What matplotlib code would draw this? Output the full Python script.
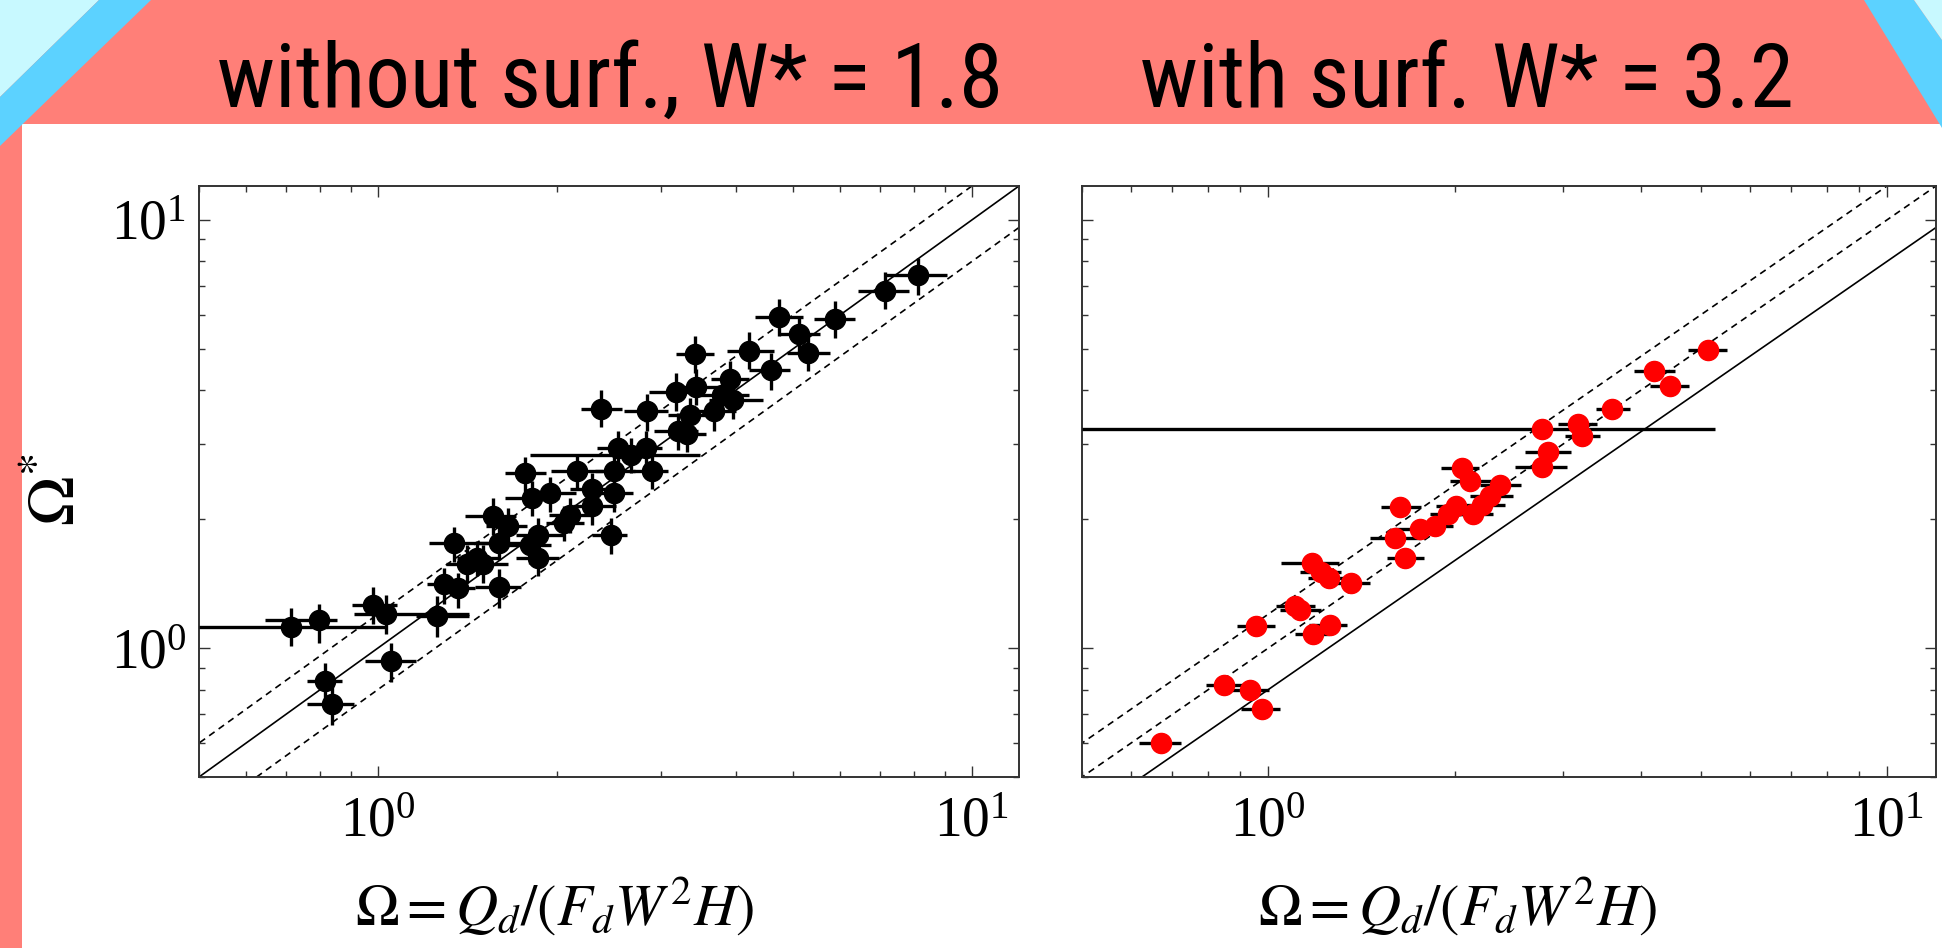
import numpy as np
import matplotlib
matplotlib.use("Agg")
import matplotlib.pyplot as plt
from matplotlib.patches import Polygon, Rectangle
from matplotlib.ticker import LogLocator, NullFormatter

# ---------------- data ----------------
# Left panel: without surfactant, W* = 1.8  (x = Omega, y = Omega*)
L_x = [0.715, 0.797, 0.983, 1.032, 1.26, 1.054, 0.816, 0.836, 1.292, 1.365, 1.597, 1.342, 1.414, 1.506, 1.47,
       1.564, 1.656, 1.597, 1.80, 1.858, 1.858, 1.771, 1.82, 1.947, 2.056, 2.108, 2.167, 2.293, 2.293, 2.468,
       2.494, 2.494, 2.536, 2.667, 2.829, 2.889, 2.376, 2.841, 3.176, 3.196, 3.312, 3.347, 3.418, 3.433, 3.679,
       3.797, 3.918, 3.959, 4.217, 4.587, 4.734, 5.116, 5.291, 5.877, 7.131, 8.123]
L_y = [1.12, 1.16, 1.26, 1.20, 1.19, 0.931, 0.839, 0.742, 1.41, 1.38, 1.39, 1.76, 1.57, 1.57, 1.62,
       2.04, 1.93, 1.76, 1.74, 1.84, 1.62, 2.57, 2.24, 2.30, 1.96, 2.05, 2.59, 2.35, 2.15, 1.84,
       2.30, 2.59, 2.93, 2.82, 2.93, 2.59, 3.62, 3.57, 3.96, 3.22, 3.17, 3.50, 4.86, 4.07, 3.57,
       3.89, 4.25, 3.80, 4.95, 4.46, 5.94, 5.41, 4.89, 5.87, 6.83, 7.42]
L_xlo = [0.50, 0.646, 0.904, 0.910, 1.158, 0.953, 0.761, 0.761, 1.208, 1.287, 1.46, 1.221, 1.30, 1.37, 1.36,
         1.40, 1.522, 1.475, 1.638, 1.709, 1.709, 1.638, 1.638, 1.782, 1.918, 1.939, 1.959, 2.108, 2.13, 2.293,
         2.317, 2.317, 2.342, 1.80, 2.601, 2.684, 2.199, 2.601, 2.859, 2.919, 3.077, 3.077, 3.176, 3.077, 3.382,
         3.491, 3.64, 3.603, 3.877, 4.217, 4.307, 4.734, 4.886, 5.426, 6.421, 7.131]
L_xhi = [1.032, 0.854, 1.076, 1.423, 1.423, 1.158, 0.869, 0.910, 1.40, 1.46, 1.745, 1.538, 1.571, 1.656, 1.60,
         1.709, 1.782, 1.745, 1.959, 2.064, 2.021, 1.918, 2.021, 2.153, 2.222, 2.293, 2.391, 2.494, 2.52, 2.628,
         2.684, 2.713, 2.742, 3.491, 3.013, 3.077, 2.573, 3.077, 3.454, 3.454, 3.565, 3.64, 3.679, 3.757, 4.001,
         4.217, 4.217, 4.445, 4.636, 4.937, 5.203, 5.541, 5.778, 6.354, 7.838, 9.08]
L_ylo = [1.01, 1.03, 1.14, 1.08, 1.06, 0.833, 0.754, 0.662, 1.27, 1.24, 1.24, 1.59, 1.42, 1.42, 1.47,
         1.84, 1.74, 1.61, 1.57, 1.66, 1.47, 2.32, 2.03, 2.08, 1.78, 1.86, 2.35, 2.12, 1.94, 1.66,
         2.08, 2.37, 2.65, 2.57, 2.65, 2.35, 3.28, 3.21, 3.58, 2.90, 2.87, 3.17, 4.38, 3.70, 3.21,
         3.50, 3.87, 3.43, 4.48, 4.00, 5.35, 4.89, 4.43, 5.29, 6.18, 6.68]
L_yhi = [1.24, 1.27, 1.39, 1.33, 1.32, 1.03, 0.921, 0.815, 1.54, 1.50, 1.53, 1.92, 1.74, 1.74, 1.78,
         2.24, 2.12, 1.94, 1.90, 2.01, 1.78, 2.80, 2.45, 2.51, 2.15, 2.24, 2.84, 2.57, 2.35, 2.01,
         2.51, 2.84, 3.21, 3.10, 3.21, 2.84, 4.00, 3.92, 4.38, 3.54, 3.50, 3.83, 5.35, 4.48, 3.92,
         4.28, 4.68, 4.19, 5.47, 4.89, 6.54, 5.91, 5.41, 6.46, 7.55, 8.13]

# Right panel: with surfactant, W* = 3.2
R_x = [0.670, 0.848, 0.934, 0.977, 0.954, 1.104, 1.127, 1.182, 1.260, 1.177, 1.215, 1.255, 1.361, 1.633,
       1.605, 1.665, 1.757, 1.857, 1.955, 2.010, 2.054, 2.121, 2.144, 2.213, 2.286, 2.371, 2.771, 2.831,
       2.771, 3.172, 3.220, 3.599, 4.208, 4.460, 5.135]
R_y = [0.600, 0.820, 0.797, 0.721, 1.125, 1.252, 1.230, 1.076, 1.133, 1.582, 1.503, 1.454, 1.422, 2.137,
       1.804, 1.625, 1.899, 1.929, 2.053, 2.147, 2.634, 2.454, 2.053, 2.157, 2.270, 2.399, 3.240, 2.867,
       2.652, 3.337, 3.134, 3.622, 4.426, 4.095, 4.970]
R_xlo = [0.619, 0.792, 0.872, 0.904, 0.891, 1.028, 1.046, 1.104, 1.164, 1.050, 1.127, 1.159, 1.255, 1.522,
         1.458, 1.555, 1.605, 1.730, 1.825, 1.865, 1.905, 1.968, 1.989, 2.075, 2.121, 2.203, 0.500, 2.599,
         2.506, 2.943, 3.020, 3.382, 3.905, 4.136, 4.764]
R_xhi = [0.724, 0.910, 1.002, 1.046, 1.024, 1.189, 1.215, 1.255, 1.338, 1.301, 1.310, 1.352, 1.458, 1.768,
         1.768, 1.786, 1.905, 1.989, 2.098, 2.190, 2.190, 2.310, 2.310, 2.411, 2.490, 2.560, 5.270, 3.085,
         3.039, 3.397, 3.434, 3.846, 4.536, 4.785, 5.523]
R_YERR_FACTOR = 1.05          # small vertical error bars hidden behind the red markers

# reference lines  y = k * x
L_SOLID = [1.0]
L_DASHED = [1.2, 0.8]
R_SOLID = [0.8]
R_DASHED = [1.0, 1.2]

AX_LIM = (0.5, 12)
TITLES = ["without surf., W* = 1.8", "with surf. W* = 3.2"]
XLABEL = r"$\Omega = Q_d/(F_dW^2H)$"
YLABEL = r"$\Omega^{*}$"

# ---------------- styling ----------------
PINK = "#FF7F78"
LCYAN = "#C8F9FF"
BLUE = "#5CD2FF"

plt.rcParams["mathtext.fontset"] = "stix"
plt.rcParams["font.family"] = "serif"
plt.rcParams["font.serif"] = ["Liberation Serif", "DejaVu Serif"]

W, H = 1942, 948
fig = plt.figure(figsize=(W / 100, H / 100), dpi=100)
fig.patch.set_facecolor(PINK)


def fx(x):
    return x / W


def fy(y):
    return 1 - y / H


def poly(pts, color):
    fig.add_artist(Polygon([(fx(a), fy(b)) for a, b in pts], closed=True,
                           transform=fig.transFigure, facecolor=color,
                           edgecolor="none", zorder=0))


fig.add_artist(Rectangle((fx(22), 0), 1 - fx(22), fy(124), transform=fig.transFigure,
                         facecolor="white", edgecolor="none", zorder=0))
poly([(0, 0), (99, 0), (0, 97)], LCYAN)
poly([(99, 0), (151, 0), (0, 146), (0, 97)], BLUE)
poly([(1864, 0), (1914, 0), (1942, 40), (1942, 128)], BLUE)
poly([(1914, 0), (1942, 0), (1942, 40)], LCYAN)

axL = fig.add_axes([fx(199), fy(777), 820 / W, 591 / H])
axR = fig.add_axes([fx(1082), fy(777), 854 / W, 591 / H])


def style(ax, ylabels=True):
    ax.set_xscale("log")
    ax.set_yscale("log")
    ax.set_xlim(*AX_LIM)
    ax.set_ylim(*AX_LIM)
    for a in (ax.xaxis, ax.yaxis):
        a.set_major_locator(LogLocator(base=10, numticks=10))
        a.set_minor_locator(LogLocator(base=10, subs=np.arange(2, 10), numticks=20))
        a.set_minor_formatter(NullFormatter())
    ax.tick_params(which="both", direction="in", top=True, right=True,
                   color="#333333", width=1.0, labelcolor="black")
    ax.tick_params(which="major", length=8, labelsize=40)
    ax.tick_params(which="minor", length=4.2)
    ax.tick_params(axis="x", which="major", pad=14)
    ax.tick_params(axis="y", which="major", pad=9, labelleft=ylabels)
    for s in ax.spines.values():
        s.set_color("#333333")
        s.set_linewidth(1.4)


def ref_lines(ax, solid, dashed):
    xr = np.array([0.3, 20.0])
    for k in solid:
        ax.plot(xr, k * xr, color="black", lw=1.2, zorder=1)
    for k in dashed:
        ax.plot(xr, k * xr, color="black", lw=1.2, ls=(0, (4, 3)), zorder=1)


style(axL, True)
style(axR, False)
ref_lines(axL, L_SOLID, L_DASHED)
ref_lines(axR, R_SOLID, R_DASHED)

lx, ly = np.array(L_x), np.array(L_y)
axL.errorbar(lx, ly,
             xerr=[lx - np.array(L_xlo), np.array(L_xhi) - lx],
             yerr=[ly - np.array(L_ylo), np.array(L_yhi) - ly],
             fmt="o", color="black", ms=14.5, mfc="black", mec="black",
             elinewidth=2.4, capsize=0, zorder=3)

rx, ry = np.array(R_x), np.array(R_y)
axR.errorbar(rx, ry,
             xerr=[rx - np.array(R_xlo), np.array(R_xhi) - rx],
             yerr=[ry - ry / R_YERR_FACTOR, ry * R_YERR_FACTOR - ry],
             fmt="o", ecolor="black", ms=14.5, mfc="#FF0000", mec="#FF0000",
             elinewidth=2.4, capsize=0, zorder=3)

for ax, fr in ((axL, 0.434), (axR, 0.44)):
    ax.set_xlabel(XLABEL, fontsize=42, va="center")
    ax.xaxis.set_label_coords(fr, -0.22)
axL.set_ylabel(YLABEL, fontsize=48, va="center", rotation=90)
axL.yaxis.set_label_coords(-0.172, 0.486)

# titles in the banner
TITLE_FAMILY = ["Liberation Sans Narrow", "Roboto Condensed", "DejaVu Sans"]
t1 = fig.text(fx(610), fy(107), TITLES[0], ha="center", va="baseline",
              fontsize=58, family=TITLE_FAMILY, fontstretch="condensed", color="black")
t2 = fig.text(fx(1467), fy(107), TITLES[1], ha="center", va="baseline",
              fontsize=58, family=TITLE_FAMILY, fontstretch="condensed", color="black")
fig.canvas.draw()
r = fig.canvas.get_renderer()
w = t1.get_window_extent(r).width
fs = 58 * 786 / w
t1.set_fontsize(fs)
t2.set_fontsize(fs)

fig.savefig("out.png", dpi=100, facecolor=fig.get_facecolor())
